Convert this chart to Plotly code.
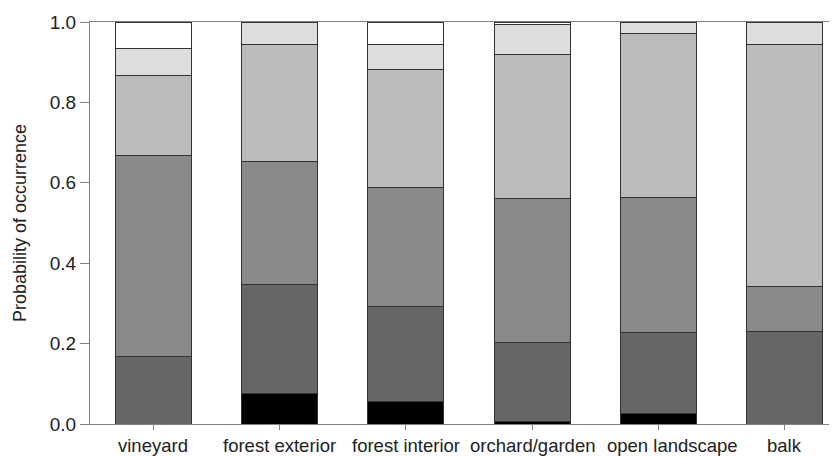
import plotly.graph_objects as go

categories = ["vineyard", "forest exterior", "forest interior", "orchard/garden", "open landscape", "balk"]

# layer sizes (bottom to top)
black = [0.0, 0.075, 0.057, 0.005, 0.027, 0.0]
dark = [0.167, 0.272, 0.236, 0.198, 0.200, 0.229]
mid = [0.500, 0.307, 0.296, 0.358, 0.337, 0.114]
light = [0.200, 0.289, 0.294, 0.359, 0.408, 0.601]
lighter = [0.066, 0.057, 0.060, 0.075, 0.028, 0.056]
white = [0.067, 0.0, 0.057, 0.005, 0.0, 0.0]

layers = [
    ("black", black, "#000000"),
    ("dark", dark, "#666666"),
    ("mid", mid, "#898989"),
    ("light", light, "#bbbbbb"),
    ("lighter", lighter, "#dddddd"),
    ("white", white, "#ffffff"),
]

# horizontal nudges of category labels (pixels), as in the original layout
label_nudge = [0, 0, 0, 0, 14, 0]

fig = go.Figure()
for name, vals, col in layers:
    fig.add_trace(go.Bar(
        x=list(range(len(categories))), y=vals, name=name,
        marker=dict(color=col, line=dict(color="#333333", width=1)),
        width=0.6, showlegend=False,
    ))

font_family = "Liberation Sans, Arial, sans-serif"

for i, (cat, dx) in enumerate(zip(categories, label_nudge)):
    fig.add_annotation(
        x=i, xref="x", y=0, yref="paper", yanchor="top", xanchor="center",
        text=cat, showarrow=False, xshift=dx, yshift=-9,
        font=dict(size=18.5, family=font_family, color="#222222"),
    )

fig.update_layout(
    barmode="stack",
    width=838, height=457,
    margin=dict(l=90, r=9, t=22, b=33),
    plot_bgcolor="white", paper_bgcolor="white",
    font=dict(family=font_family, color="#222222", size=18),
    xaxis=dict(
        range=[-0.5, 5.35],
        tickmode="array", tickvals=list(range(len(categories))),
        showticklabels=False, automargin=False,
        showline=True, linecolor="#808080", linewidth=1, mirror=True,
        ticks="outside", ticklen=5, tickcolor="#808080",
        showgrid=False, zeroline=False,
    ),
    yaxis=dict(
        range=[0, 1.0], automargin=False,
        tickvals=[0, 0.2, 0.4, 0.6, 0.8, 1.0],
        ticktext=["0.0", "0.2", "0.4", "0.6", "0.8", "1.0"],
        showline=True, linecolor="#808080", linewidth=1,
        ticks="outside", ticklen=9, tickcolor="#808080",
        showgrid=False, zeroline=False,
        tickfont=dict(size=19),
        title=dict(text="Probability of occurrence", font=dict(size=18), standoff=18),
    ),
)

fig.write_html("out.html")
